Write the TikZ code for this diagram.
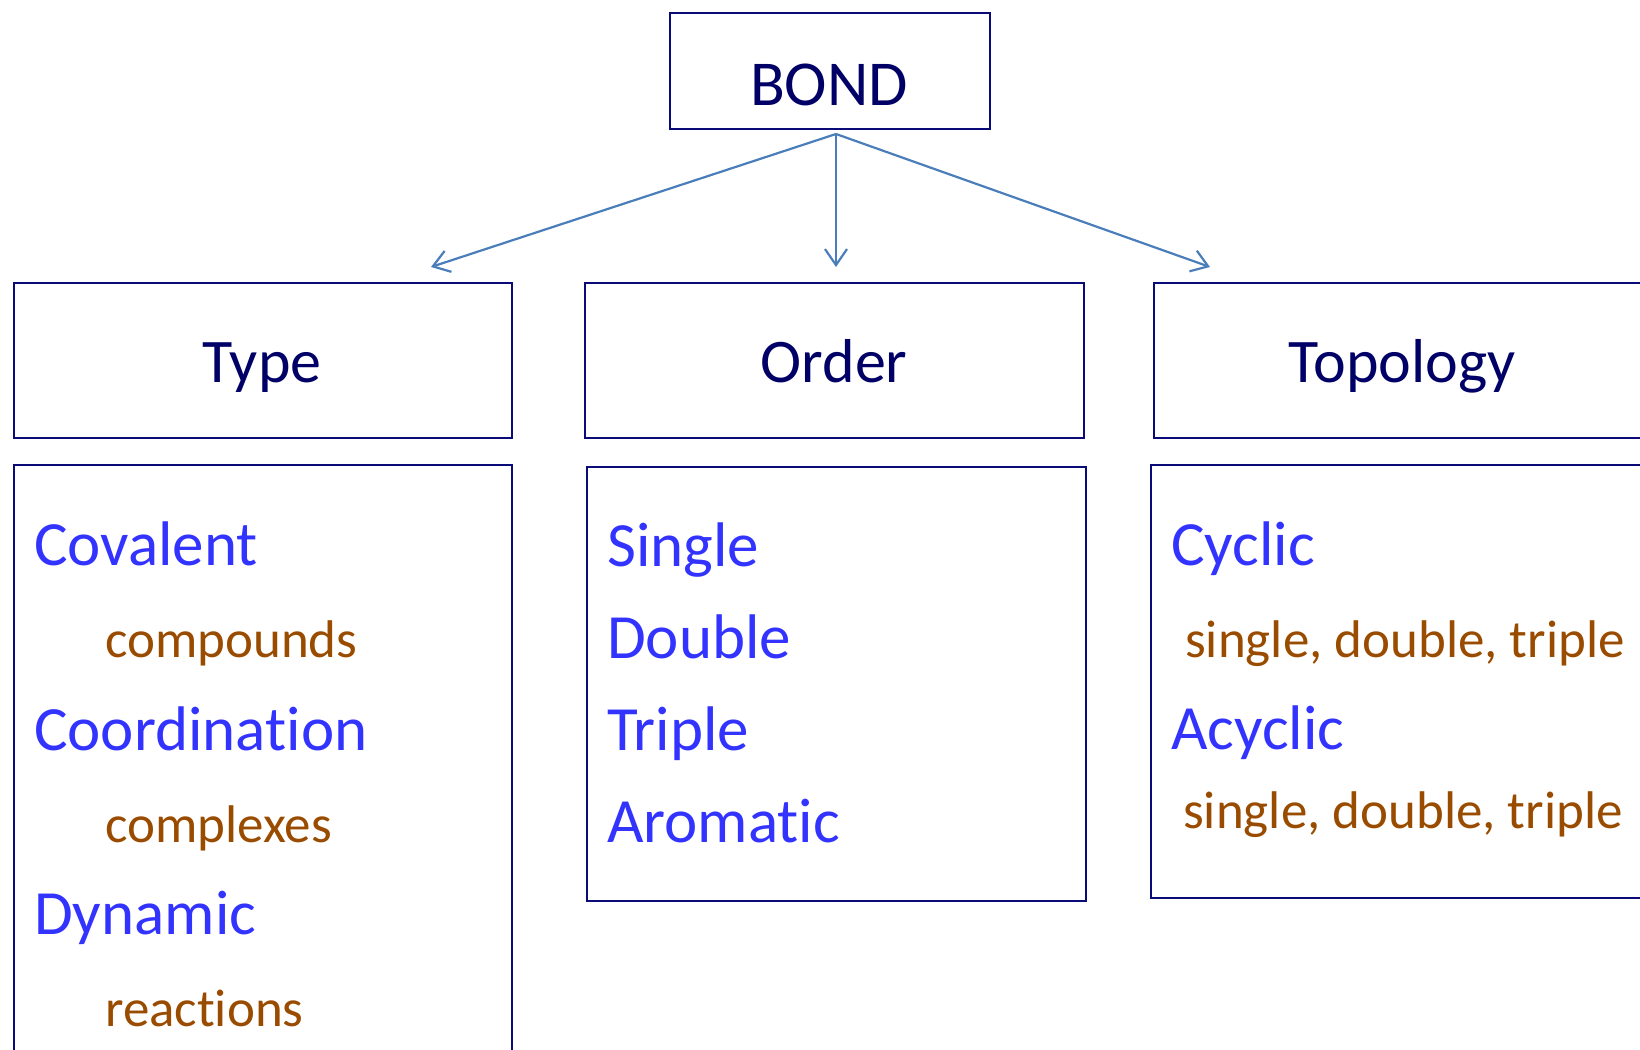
\documentclass[tikz,border=0pt]{standalone}
\usepackage{fontspec}
\setmainfont{Carlito}[Ligatures={NoCommon}]
\usetikzlibrary{arrows.meta}
\definecolor{hdr}{RGB}{0,0,102}
\definecolor{bordercol}{RGB}{10,10,120}
\definecolor{itemblue}{RGB}{51,51,255}
\definecolor{itembrown}{RGB}{153,76,0}
\definecolor{arrowcol}{RGB}{74,126,187}
\begin{document}
\begin{tikzpicture}[x=1pt,y=-1pt,
 boxshape/.style={draw=bordercol, line width=2pt, anchor=north west, inner sep=0pt},
 hdrtext/.style={text=hdr, font=\fontsize{62}{70}\selectfont, anchor=base, inner sep=0pt},
 maintext/.style={text=itemblue, font=\fontsize{63}{70}\selectfont, anchor=base west, inner sep=0pt},
 subtext/.style={text=itembrown, font=\fontsize{53}{60}\selectfont, anchor=base west, inner sep=0pt},
 link/.style={draw=arrowcol, line width=2.2pt, -{Straight Barb[length=16pt,width=22pt]}}]
\useasboundingbox (0,0) rectangle (1640,1049);
\clip (0,0) rectangle (1640,1049);
% boxes
\node[boxshape, minimum width=320pt, minimum height=116pt] (bondbox) at (669,12) {};
\node[boxshape, minimum width=498.5pt, minimum height=155pt] (typebox) at (12.5,282) {};
\node[boxshape, minimum width=499pt, minimum height=155pt] (orderbox) at (584,282) {};
\node[boxshape, minimum width=520pt, minimum height=155pt] (topobox) at (1153,282) {};
\node[boxshape, minimum width=498.5pt, minimum height=700pt] (typelist) at (12.5,464) {};
\node[boxshape, minimum width=499pt, minimum height=434pt] (orderlist) at (586,466) {};
\node[boxshape, minimum width=520pt, minimum height=433pt] (topolist) at (1150,464) {};
% headers
\node[hdrtext, font=\fontsize{64}{70}\selectfont] (bond) at (829,105) {BOND};
\node[hdrtext] (type) at (262,382) {Type};
\node[hdrtext] (order) at (834,382) {Order};
\node[hdrtext] (topo) at (1402,382) {Topology};
% type list
\node[maintext] (cov) at (34,565) {Covalent};
\node[subtext] (comp) at (105,657) {compounds};
\node[maintext] (coord) at (34,750) {Coordination};
\node[subtext] (cplx) at (105,842) {complexes};
\node[maintext] (dyn) at (34,934) {Dynamic};
\node[subtext] (react) at (105,1026) {reactions};
% order list
\node[maintext] (single) at (607,566) {Single};
\node[maintext] (double) at (607,658) {Double};
\node[maintext] (triple) at (607,750) {Triple};
\node[maintext] (arom) at (607,842) {Aromatic};
% topology list
\node[maintext] (cyc) at (1171,565) {Cyclic};
\node[subtext] (cycsub) at (1185,657) {single, double, triple};
\node[maintext] (acyc) at (1171,749) {Acyclic};
\node[subtext] (acycsub) at (1183,828) {single, double, triple};
% arrows
\coordinate (src) at (836,134);
\coordinate (tipL) at (431,267);
\coordinate (tipM) at (836,267);
\coordinate (tipR) at (1210,267);
\draw[link] (src) -- (tipL);
\draw[link] (src) -- (tipM);
\draw[link] (src) -- (tipR);
\end{tikzpicture}
\end{document}
